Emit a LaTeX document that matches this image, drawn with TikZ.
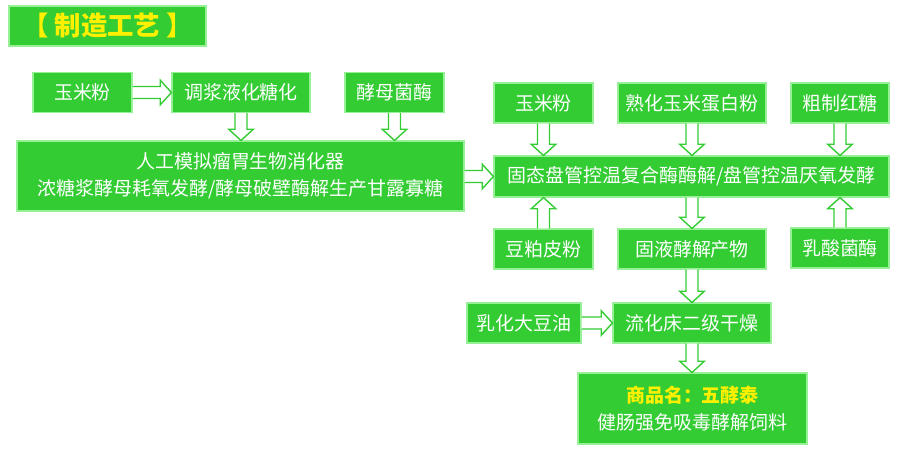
\documentclass[tikz,border=0pt]{standalone}
\usepackage{fontspec}
\setmainfont{Noto Sans CJK SC}
\usetikzlibrary{calc}
\definecolor{boxgreen}{RGB}{51,204,51}
\definecolor{boxedge}{RGB}{150,240,150}
\definecolor{nameyellow}{RGB}{255,240,0}
\def\px{0.02cm}
\begin{document}
\begin{tikzpicture}[
  x=\px, y=-\px,
  every node/.style = {font=\fontsize{10.8pt}{15.3pt}\selectfont, text=white},
  box/.style = {draw=boxedge, fill=boxgreen, line width=0.6pt,
                inner sep=0pt, align=center, minimum height=40*\px},
  blockarr/.style = {draw=boxgreen, fill=white, line width=0.8pt, line join=miter,
    to path={($(\tikztostart)!3.4pt!90:(\tikztotarget)$)
      -- ($(\tikztotarget)!6.4pt!(\tikztostart)!3.4pt!-90:(\tikztostart)$)
      -- ($(\tikztotarget)!6.4pt!(\tikztostart)!7pt!-90:(\tikztostart)$)
      -- (\tikztotarget)
      -- ($(\tikztotarget)!6.4pt!(\tikztostart)!7pt!90:(\tikztostart)$)
      -- ($(\tikztotarget)!6.4pt!(\tikztostart)!3.4pt!90:(\tikztostart)$)
      -- ($(\tikztostart)!3.4pt!-90:(\tikztotarget)$)}},
]
\useasboundingbox (0,0) rectangle (909,450);

%% ── Title ────────────────────────────────────────────────────────────────────
\node[box, minimum width=197*\px, minimum height=40*\px, text=nameyellow,
      font=\fontsize{15pt}{17pt}\selectfont\bfseries] (title) at (107.5,26)
  {【 制造工艺 】};

%% ── Left branch: rumen digester ──────────────────────────────────────────────
\node[box, minimum width=99*\px]  (corn1)  at (82.5,92.5)  {玉米粉};
\node[box, minimum width=138*\px] (slurry) at (241,92.5)   {调浆液化糖化};
\node[box, minimum width=99*\px]  (yeast)  at (394.5,92.5) {酵母菌酶};
\node[box, minimum width=447*\px, minimum height=70*\px] (digester) at (240.5,176)
  {人工模拟瘤胃生物消化器\\
   浓糖浆酵母耗氧发酵/酵母破壁酶解生产甘露寡糖};

%% ── Right branch: solid-state fermentation ───────────────────────────────────
\node[box, minimum width=99*\px]  (corn2)   at (543.5,103) {玉米粉};
\node[box, minimum width=148*\px] (gluten)  at (692,103)   {熟化玉米蛋白粉};
\node[box, minimum width=98*\px]  (sugar)   at (840,103)   {粗制红糖};
\node[box, minimum width=395*\px, minimum height=41*\px] (ferment) at (691.5,176.5)
  {固态盘管控温复合酶酶解/盘管控温厌氧发酵};
\node[box, minimum width=99*\px]  (soy)     at (543.5,249) {豆粕皮粉};
\node[box, minimum width=148*\px] (product) at (692,249)   {固液酵解产物};
\node[box, minimum width=98*\px]  (lactic)  at (840,248)   {乳酸菌酶};

%% ── Drying and final product ─────────────────────────────────────────────────
\node[box, minimum width=114*\px] (oil) at (524,323) {乳化大豆油};
\node[box, minimum width=158*\px] (dry) at (692,323) {流化床二级干燥};
\node[box, minimum width=229*\px, minimum height=71*\px] (final) at (692.5,408.5)
  {{\bfseries\color{nameyellow}商品名：五酵泰}\\健肠强免吸毒酵解饲料};

%% ── Block arrows ─────────────────────────────────────────────────────────────
\draw[blockarr] (corn1.east) to (slurry.west);
\draw[blockarr] (slurry.south) to (slurry.south |- digester.north);
\draw[blockarr] (yeast.south) to (yeast.south |- digester.north);
\draw[blockarr] (digester.east |- ferment.west) to (ferment.west);
\draw[blockarr] (corn2.south) to (corn2.south |- ferment.north);
\draw[blockarr] (gluten.south) to (gluten.south |- ferment.north);
\draw[blockarr] (sugar.south) to (sugar.south |- ferment.north);
\draw[blockarr] (soy.north) to (soy.north |- ferment.south);
\draw[blockarr] (lactic.north) to (lactic.north |- ferment.south);
\draw[blockarr] (ferment.south -| product.north) to (product.north);
\draw[blockarr] (product.south) to (product.south |- dry.north);
\draw[blockarr] (oil.east) to (dry.west);
\draw[blockarr] (dry.south) to (dry.south |- final.north);

\end{tikzpicture}
\end{document}
